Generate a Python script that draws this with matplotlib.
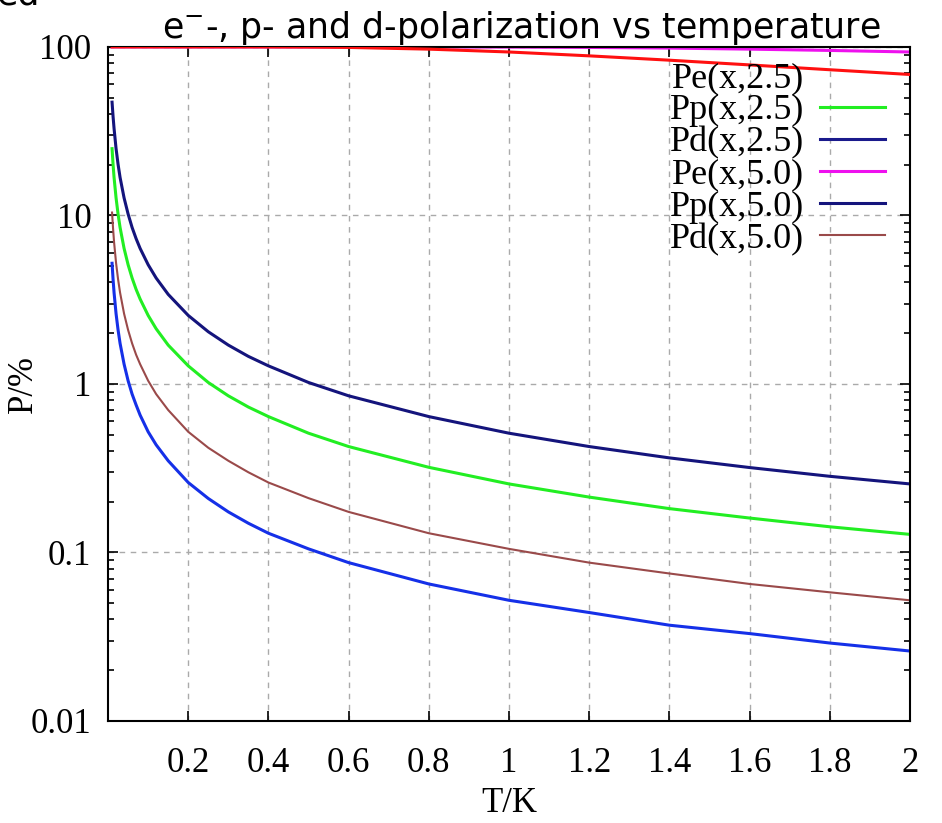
import numpy as np
import matplotlib.pyplot as plt
from matplotlib.ticker import FixedLocator, NullFormatter, LogLocator

T = [0.01, 0.0125, 0.015, 0.02, 0.025, 0.03, 0.04, 0.05, 0.06, 0.07, 0.08, 0.1,
     0.12, 0.15, 0.2, 0.25, 0.3, 0.35, 0.4, 0.5, 0.6, 0.8, 1.0, 1.2, 1.4, 1.6,
     1.8, 2.0]

pe_25 = [100.0] * 18 + [99.95, 99.76, 99.3, 97.0, 93.3, 88.5, 83.4, 78.2, 73.2, 68.6]
pp_25 = [24.9, 20.1, 16.8, 12.7, 10.17, 8.48, 6.37, 5.10, 4.25, 3.64, 3.19, 2.55,
         2.125, 1.70, 1.28, 1.02, 0.85, 0.729, 0.64, 0.51, 0.425, 0.32, 0.255,
         0.213, 0.182, 0.16, 0.142, 0.128]
pd_25 = [5.2, 4.18, 3.48, 2.61, 2.09, 1.74, 1.31, 1.045, 0.87, 0.75, 0.653, 0.52,
         0.435, 0.35, 0.26, 0.209, 0.174, 0.149, 0.13, 0.105, 0.087, 0.065, 0.052,
         0.044, 0.037, 0.033, 0.029, 0.026]
pe_50 = [100.0] * 21 + [99.95, 99.76, 99.3, 98.4, 97.0, 95.3, 93.3]
pp_50 = [47.0, 38.7, 32.8, 24.9, 20.1, 16.8, 12.7, 10.2, 8.48, 7.28, 6.37, 5.10,
         4.25, 3.40, 2.55, 2.04, 1.70, 1.457, 1.28, 1.02, 0.85, 0.64, 0.51, 0.425,
         0.364, 0.319, 0.283, 0.255]
pd_50 = [10.4, 8.36, 6.95, 5.22, 4.18, 3.48, 2.61, 2.09, 1.74, 1.49, 1.31, 1.045,
         0.87, 0.70, 0.52, 0.418, 0.35, 0.299, 0.26, 0.21, 0.174, 0.13, 0.105,
         0.087, 0.075, 0.065, 0.058, 0.052]

xticks = [0.2, 0.4, 0.6, 0.8, 1.0, 1.2, 1.4, 1.6, 1.8, 2.0]
xticklabels = ["0.2", "0.4", "0.6", "0.8", "1", "1.2", "1.4", "1.6", "1.8", "2"]
yticks = [0.01, 0.1, 1, 10, 100]
yticklabels = ["0.01", "0.1", "1", "10", "100"]

plt.rcParams['font.family'] = ['Liberation Serif', 'DejaVu Serif']

fig = plt.figure(figsize=(9.42, 8.23), dpi=100)
ax = fig.add_axes([0.1147, 0.124, 0.8513, 0.819])

ax.plot(T, pe_25, color='#ff1010', lw=2.2, label='Pe(x,2.5)', zorder=3)
ax.plot(T, pp_25, color='#22ee22', lw=2.2, label='Pp(x,2.5)')
ax.plot(T, pd_25, color='#1530e8', lw=2.2, label='Pd(x,2.5)')
ax.plot(T, pe_50, color='#ee10ee', lw=2.2, label='Pe(x,5.0)', zorder=2.5)
ax.plot(T, pp_50, color='#14147c', lw=2.2, label='Pp(x,5.0)')
ax.plot(T, pd_50, color='#9a4a4a', lw=1.5, label='Pd(x,5.0)')

ax.set_yscale('log')
ax.set_xlim(0, 2)
ax.set_ylim(0.01, 100)

ax.xaxis.set_major_locator(FixedLocator(xticks))
ax.set_xticklabels(xticklabels)
ax.yaxis.set_major_locator(FixedLocator(yticks))
ax.set_yticklabels(yticklabels)
ax.yaxis.set_minor_locator(LogLocator(base=10, subs=np.arange(2, 10)))
ax.yaxis.set_minor_formatter(NullFormatter())

ax.tick_params(which='both', direction='in', top=True, right=True,
               labelsize=25, width=1.2)
ax.tick_params(which='major', length=7)
ax.tick_params(which='minor', length=4)
ax.tick_params(axis='x', pad=19)
ax.tick_params(axis='y', pad=12)

ax.grid(True, which='major', linestyle=(0, (4, 4)), color='#aaaaaa', lw=1)
for s in ax.spines.values():
    s.set_linewidth(1.5)

ax.set_xlabel('T/K', fontsize=25, labelpad=5)
ax.set_ylabel('P/%', fontsize=25)
ax.yaxis.set_label_coords(-0.085, 0.5)

fig.text(0.553, 0.954, 'e$^{-}$-, p- and d-polarization vs temperature',
         fontsize=25, family='DejaVu Sans', ha='center', va='baseline')
fig.text(-0.004, 0.995, 'ed', fontsize=25, family='DejaVu Sans',
         ha='left', va='baseline')

leg = ax.legend(loc='upper right', bbox_to_anchor=(0.969, 0.978), frameon=False,
                markerfirst=False, fontsize=26, handlelength=1.8,
                labelspacing=-0.03, handletextpad=0.45, borderaxespad=0,
                borderpad=0)
leg_lines = leg.get_lines()
leg_lines[0].set_visible(False)
leg_lines[2].set_color('#1a1a8c')

fig.savefig('out.png', dpi=100)
